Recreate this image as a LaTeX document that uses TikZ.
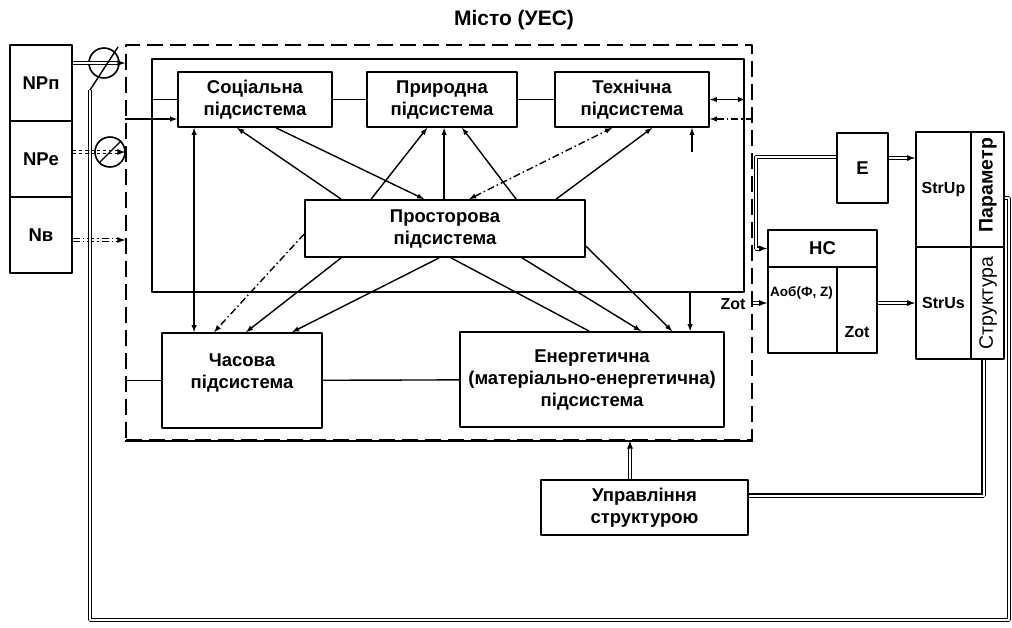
\documentclass[tikz,border=0pt]{standalone}
\usepackage{fontspec}
\setmainfont{Liberation Sans}
\usetikzlibrary{positioning}

\begin{document}
\begin{tikzpicture}[>=latex,line join=bevel,x=1pt,y=-1pt,
  box/.style={draw,line width=1.8pt,align=center,inner sep=0pt,font=\bfseries\fontsize{18.5}{22}\selectfont},
  cell/.style={draw,line width=1.8pt,inner sep=0pt},
  lbl/.style={inner sep=0pt,font=\bfseries\fontsize{16}{19}\selectfont},
  link/.style={line width=1.4pt},
  dline/.style={double,double distance=2pt,line width=1.1pt},
  dashdot/.style={dash pattern=on 7pt off 3pt on 1.5pt off 3pt},
  cmp/.style={circle,draw,line width=1.6pt,minimum size=30,inner sep=0pt},
]
  \useasboundingbox (0,0) rectangle (1012,627);

  \node (node_title) at (514,20) [lbl,font=\bfseries\fontsize{21}{24}\selectfont] {Місто (УЕС)};
  \node (node_city) at (439,242.5) [draw,line width=1.5pt,dash pattern=on 16pt off 7pt,minimum width=626,minimum height=395] {};
  \node (node_inner) at (448,175.5) [cell,minimum width=592,minimum height=233] {};

  \node (node_np) at (41,83) [box,minimum width=62,minimum height=76] {NPп};
  \node (node_ne) at (41,159) [box,minimum width=62,minimum height=76] {NPе};
  \node (node_nv) at (41,235) [box,minimum width=62,minimum height=76] {Nв};
  \node (node_cmp1) at (104,63) [cmp] {};
  \node (node_cmp2) at (110,152) [cmp] {};

  \node (node_social) at (255,99.5) [box,minimum width=154,minimum height=55] {Соціальна\\підсистема};
  \node (node_nature) at (442,99.5) [box,minimum width=150,minimum height=55] {Природна\\підсистема};
  \node (node_tech) at (632,99.5) [box,minimum width=154,minimum height=55] {Технічна\\підсистема};
  \node (node_space) at (445,228.5) [box,minimum width=280,minimum height=57] {Просторова\\підсистема};
  \node (node_time) at (242,380.5) [box,minimum width=160,minimum height=95,text depth=18pt] {Часова\\підсистема};
  \node (node_energy) at (592,379.5) [box,minimum width=264,minimum height=95] {Енергетична\\(матеріально-енергетична)\\підсистема};
  \node (node_ctrl) at (644.5,507.5) [box,minimum width=207,minimum height=55] {Управління\\структурою};

  \node (node_e) at (862.5,168) [box,minimum width=51,minimum height=70] {E};
  \node (node_hc) at (822.5,248.5) [box,minimum width=109,minimum height=37] {НС};
  \node (node_aob) at (802.5,310) [cell,minimum width=69,minimum height=86] {};
  \node (node_zot) at (857,310) [cell,minimum width=40,minimum height=86] {};
  \node (node_aob_txt) at (770,293) [lbl,anchor=west,font=\bfseries\fontsize{13.5}{15}\selectfont] {Аоб(Ф, Z)};
  \node (node_zot_txt) at (857,332) [lbl] {Zot};
  \node (node_zot_in) at (733,304) [lbl] {Zot};

  \node (node_strup) at (943.5,189.5) [cell,lbl,draw,minimum width=55,minimum height=115] {StrUp};
  \node (node_strus) at (943.5,303) [cell,lbl,draw,minimum width=55,minimum height=112] {StrUs};
  \node (node_param) at (987.5,189.5) [cell,minimum width=33,minimum height=115] {};
  \node (node_struct) at (987.5,303) [cell,minimum width=33,minimum height=112] {};
  \node (node_param_txt) at (988,185) [lbl,rotate=90,font=\bfseries\fontsize{19.5}{22}\selectfont] {Параметр};
  \node (node_struct_txt) at (988,303) [lbl,rotate=90,font=\fontsize{19.5}{22}\selectfont] {Структура};

  % frame bottom is drawn solid
  \draw [line width=1.5pt] (node_city.south west) -- (node_city.south east);

  % inputs from the left
  \draw [dline,->] (node_np.east |- node_cmp1) -- (node_cmp1 -| node_city.west);
  \draw [dline,dashed,->] (node_ne.east |- node_cmp2) -- (node_cmp2 -| node_city.west);
  \draw [link] (node_cmp2.225) -- (node_cmp2.45);
  \draw [dline,dashdot,->] ([yshift=-5pt]node_nv.east) -- ([yshift=-5pt]node_nv.east -| node_city.west);

  % top row
  \draw [link] (node_social) -- (node_nature);
  \draw [link] (node_nature) -- (node_tech);
  \draw [link] (node_social.west) -- (node_social.west -| node_inner.west);
  \draw [link,->] ([yshift=-19.5pt]node_social.west -| node_city.west) -- ([yshift=-19.5pt]node_social.west);
  \draw [link,<->] (node_tech.east) -- (node_tech.east -| node_inner.east);
  \draw [link,dashdot,->] ([yshift=-19.5pt]node_tech.east -| node_city.east) -- ([yshift=-19.5pt]node_tech.east);
  \coordinate (tech_in) at (692,152);
  \draw [link,->] (tech_in) -- (tech_in |- node_tech.south);

  % links with the spatial subsystem
  \draw [link,<->] ([xshift=17pt]node_social.south west) -- ([xshift=33pt]node_time.north west);
  \draw [link,->] ([xshift=37pt]node_space.north west) -- ([xshift=60pt]node_social.south west);
  \draw [link,->] ([xshift=99pt]node_social.south west) -- ([xshift=120pt]node_space.north west);
  \draw [link,->] ([xshift=67pt]node_space.north west) -- ([xshift=61pt]node_nature.south west);
  \draw [link,->] ([xshift=140pt]node_space.north west) -- ([xshift=78pt]node_nature.south west);
  \draw [link,->] ([xshift=212pt]node_space.north west) -- ([xshift=96pt]node_nature.south west);
  \draw [link,dashdot,<->] ([xshift=165pt]node_space.north west) -- ([xshift=58pt]node_tech.south west);
  \draw [link,->] ([xshift=252pt]node_space.north west) -- ([xshift=98pt]node_tech.south west);
  \draw [link,dashdot,->] ([yshift=-35pt]node_space.north west) -- ([xshift=53pt]node_time.north west);
  \draw [link,->] ([xshift=37pt]node_space.south west) -- ([xshift=85pt]node_time.north west);
  \draw [link,->] ([xshift=135pt]node_space.south west) -- ([xshift=131pt]node_time.north west);
  \draw [link] ([xshift=147pt]node_space.south west) -- ([xshift=130pt]node_energy.north west);
  \draw [link,->] ([xshift=218pt]node_space.south west) -- ([xshift=182pt]node_energy.north west);
  \draw [link,->] ([yshift=-47pt]node_space.north east) -- ([xshift=213pt]node_energy.north west);
  \draw [link,->] ([xshift=539pt]node_inner.south west) -- ([xshift=231pt]node_energy.north west);

  % bottom row
  \draw [link] (node_time) -- (node_energy);
  \draw [link] (node_time.west) -- (node_time.west -| node_city.west);

  % right part
  \draw [dline,->] ([yshift=11pt]node_e.west) -| ([xshift=-11pt]node_hc.west) -- (node_hc.west);
  \draw [dline,->] ([yshift=10pt]node_e.east) -- ([yshift=10pt]node_e.east -| node_strup.west);
  \draw [dline,->] ([yshift=7pt]node_aob.west -| node_city.east) -- ([yshift=7pt]node_aob.west);
  \draw [dline,->] ([yshift=7pt]node_zot.east) -- ([yshift=7pt]node_zot.east -| node_strus.west);
  \draw [dline] ([xshift=-4pt]node_struct.south) |- ([yshift=12pt]node_ctrl.east);
  \draw [dline,->] ([xshift=-14.5pt]node_ctrl.north) -- ([xshift=-14.5pt]node_ctrl.north |- node_city.south);

  % feedback round the whole
  \coordinate (fb_se) at (1009,620);
  \coordinate (fb_sw) at (90,620);
  \coordinate (fb_nw) at (90,90);
  \coordinate (fb_end) at (118,47);
  \draw [dline] ([yshift=-8.5pt]node_param.east) -| (fb_se) -- (fb_sw) -- (fb_nw);
  \draw [link] (fb_nw) -- (fb_end);
%
\end{tikzpicture}
\end{document}
